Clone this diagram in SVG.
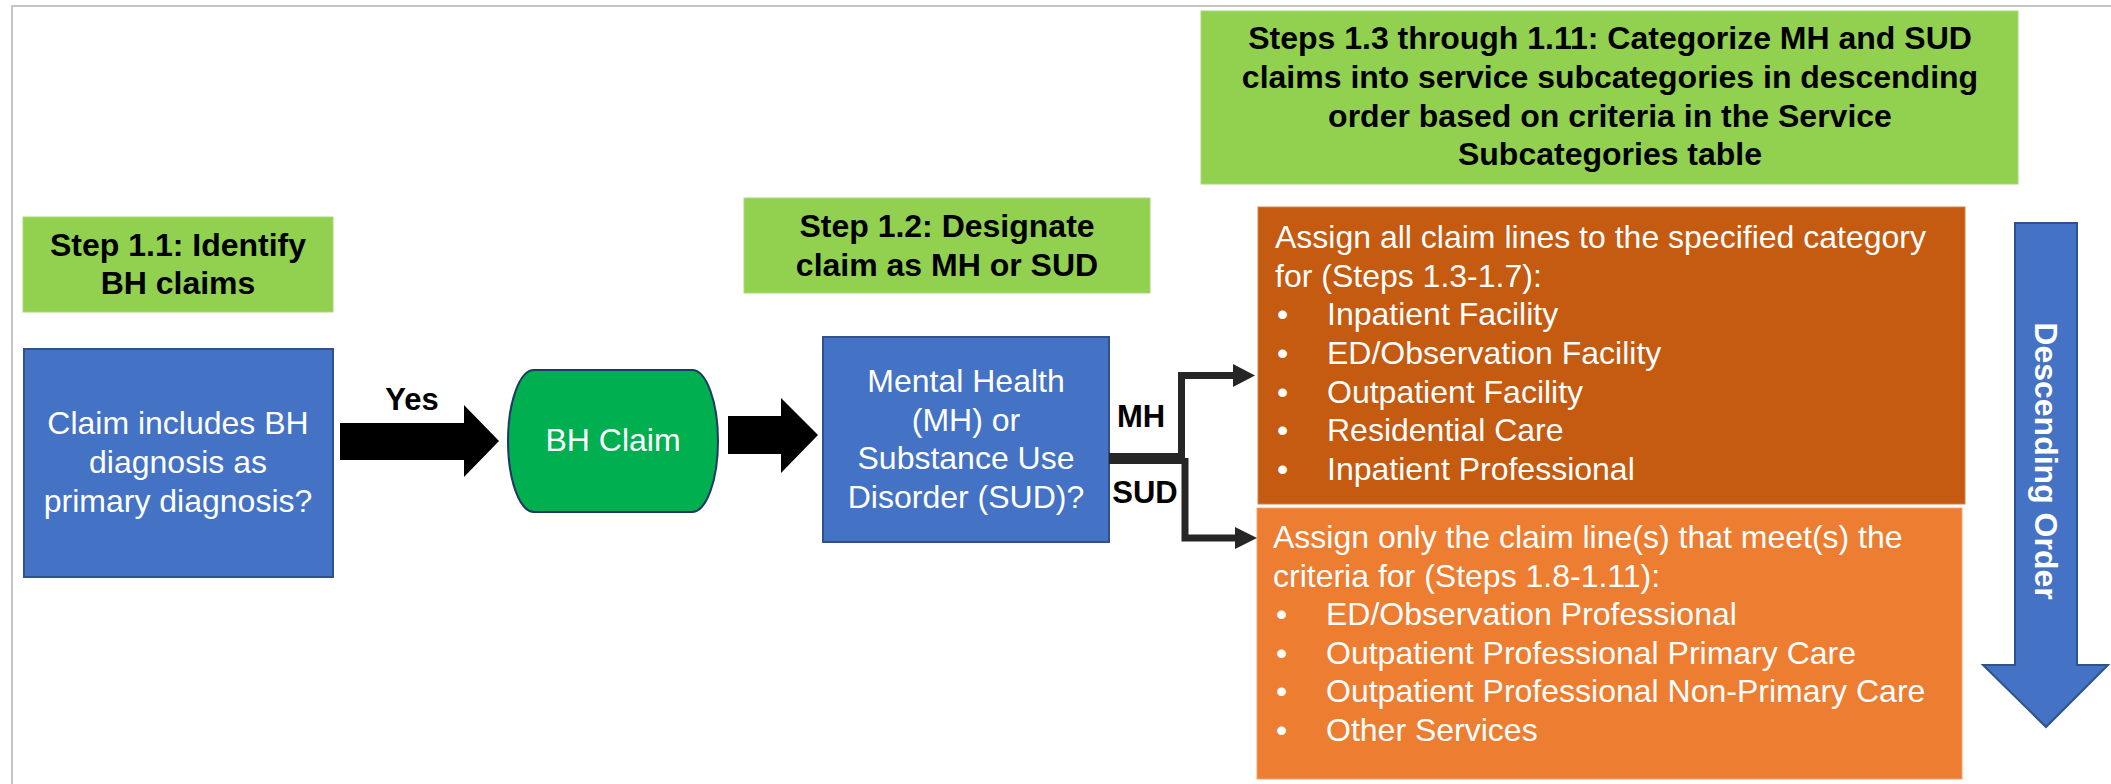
<svg xmlns="http://www.w3.org/2000/svg" width="2111" height="784" viewBox="0 0 2111 784">
<style>
  text { font-family: "Liberation Sans", Arial, sans-serif; font-size: 32px; }
  .hdr { font-weight: bold; fill: #000000; text-anchor: middle; }
  .lbl { font-weight: bold; fill: #000000; text-anchor: middle; font-size: 31px; }
  .wc { fill: #FFFFFF; text-anchor: middle; }
  .wl { fill: #FFFFFF; }
  .step { fill: #92D050; stroke: #A9DA74; stroke-width: 1; }
  .blue { fill: #4472C4; stroke: #2F528F; stroke-width: 2; }
  .conn { fill: none; stroke: #262626; stroke-linejoin: miter; }
  .head { fill: #262626; }
  .blk { fill: #000000; }
</style>
<rect x="0" y="0" width="2111" height="784" fill="#FFFFFF"/>
<path d="M12,784 V6 H2111" fill="none" stroke="#C4C4C4" stroke-width="2"/>

<g id="step-1-3">
  <rect class="step" x="1201" y="11" width="817" height="173"/>
  <text class="hdr" x="1610" y="49">Steps 1.3 through 1.11: Categorize MH and SUD</text>
  <text class="hdr" x="1610" y="88">claims into service subcategories in descending</text>
  <text class="hdr" x="1610" y="127">order based on criteria in the Service</text>
  <text class="hdr" x="1610" y="165">Subcategories table</text>
</g>

<g id="step-1-1">
  <rect class="step" x="23" y="217" width="310" height="95"/>
  <text class="hdr" x="178" y="256">Step 1.1: Identify</text>
  <text class="hdr" x="178" y="294">BH claims</text>
</g>

<g id="step-1-2">
  <rect class="step" x="744" y="198" width="406" height="95"/>
  <text class="hdr" x="947" y="237">Step 1.2: Designate</text>
  <text class="hdr" x="947" y="276">claim as MH or SUD</text>
</g>

<g id="claim-includes">
  <rect class="blue" x="24" y="349" width="309" height="228"/>
  <text class="wc" x="178" y="434">Claim includes BH</text>
  <text class="wc" x="178" y="473">diagnosis as</text>
  <text class="wc" x="178" y="512">primary diagnosis?</text>
</g>

<g id="bh-claim">
  <path d="M534,370 H692 A26,71 0 0 1 692,512 H534 A26,71 0 0 1 534,370 Z" fill="#00B050" stroke="#203864" stroke-width="2"/>
  <text class="wc" x="613" y="451">BH Claim</text>
</g>

<g id="mh-or-sud">
  <rect class="blue" x="823" y="337" width="286" height="205"/>
  <text class="wc" x="966" y="392">Mental Health</text>
  <text class="wc" x="966" y="431">(MH) or</text>
  <text class="wc" x="966" y="469">Substance Use</text>
  <text class="wc" x="966" y="508">Disorder (SUD)?</text>
</g>

<g id="assign-all">
  <rect x="1258" y="207" width="707" height="297" fill="#C55A11" stroke="#D9804A" stroke-width="1"/>
  <text class="wl" x="1275" y="248">Assign all claim lines to the specified category</text>
  <text class="wl" x="1275" y="287">for (Steps 1.3-1.7):</text>
  <text class="wl" x="1277" y="325">•</text><text class="wl" x="1327" y="325">Inpatient Facility</text>
  <text class="wl" x="1277" y="364">•</text><text class="wl" x="1327" y="364">ED/Observation Facility</text>
  <text class="wl" x="1277" y="403">•</text><text class="wl" x="1327" y="403">Outpatient Facility</text>
  <text class="wl" x="1277" y="441">•</text><text class="wl" x="1327" y="441">Residential Care</text>
  <text class="wl" x="1277" y="480">•</text><text class="wl" x="1327" y="480">Inpatient Professional</text>
</g>

<g id="assign-only">
  <rect x="1257" y="508" width="705" height="271" fill="#ED7D31" stroke="#F3A473" stroke-width="1"/>
  <text class="wl" x="1273" y="548">Assign only the claim line(s) that meet(s) the</text>
  <text class="wl" x="1273" y="587">criteria for (Steps 1.8-1.11):</text>
  <text class="wl" x="1276" y="625">•</text><text class="wl" x="1326" y="625">ED/Observation Professional</text>
  <text class="wl" x="1276" y="664">•</text><text class="wl" x="1326" y="664">Outpatient Professional Primary Care</text>
  <text class="wl" x="1276" y="702">•</text><text class="wl" x="1326" y="702">Outpatient Professional Non-Primary Care</text>
  <text class="wl" x="1276" y="741">•</text><text class="wl" x="1326" y="741">Other Services</text>
</g>

<g id="descending-order">
  <polygon points="2015,223 2077,223 2077,665 2108,665 2046,727 1983,665 2015,665" fill="#4472C4" stroke="#2F528F" stroke-width="2"/>
  <text class="wc" font-weight="bold" transform="translate(2034.5,461) rotate(90)">Descending Order</text>
</g>

<g id="connectors">
  <polygon class="blk" points="340,423 464,423 464,405 499,441 464,477 464,460 340,460"/>
  <text class="lbl" x="412" y="410">Yes</text>
  <polygon class="blk" points="728,416 781,416 781,398 818,435 781,473 781,454 728,454"/>
  <rect x="1109" y="453" width="73" height="11" fill="#262626"/>
  <path class="conn" stroke-width="7" d="M1181.5,458 V375.5 H1234"/>
  <polygon class="head" points="1233,364 1255,375.5 1233,387"/>
  <path class="conn" stroke-width="7" d="M1185,458 V538 H1236"/>
  <polygon class="head" points="1235,527 1257,538 1235,549"/>
  <text class="lbl" x="1141" y="427">MH</text>
  <text class="lbl" x="1145" y="503">SUD</text>
</g>
</svg>
